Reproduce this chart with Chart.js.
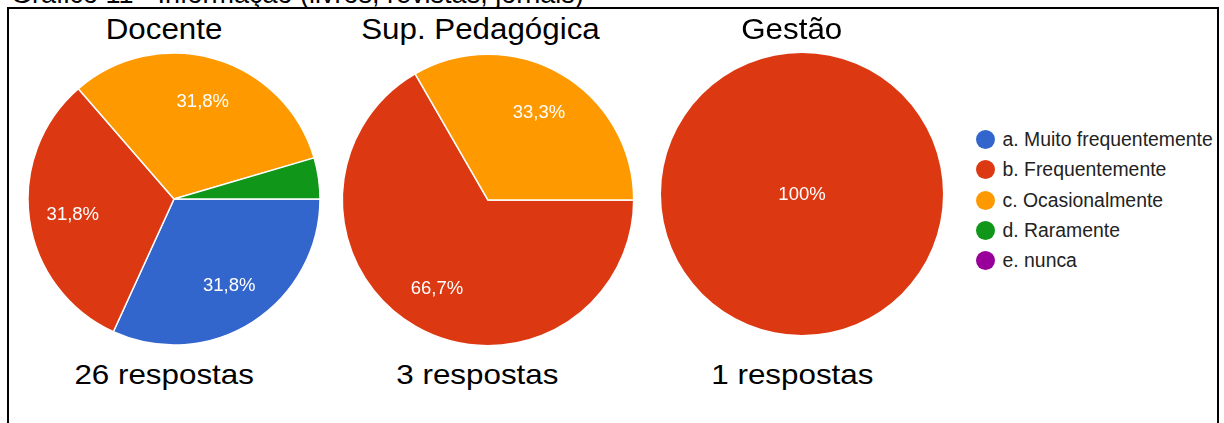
<!DOCTYPE html>
<html>
<head>
<meta charset="utf-8">
<script src="https://cdn.jsdelivr.net/npm/chart.js@4/dist/chart.umd.min.js"></script>
<style>
  html, body { margin:0; padding:0; background:#fff; width:1224px; height:423px; overflow:hidden; position:relative; font-family: Arial, "Liberation Sans", sans-serif; }
  .abs { position:absolute; white-space:nowrap; }
  #frame { position:absolute; left:7px; top:7px; width:1208px; height:500px; border:2px solid #000; }
  .txt { line-height:1; color:#000; transform-origin: center center; }
  .cv { position:absolute; }
  .leg-dot { position:absolute; width:19px; height:19px; border-radius:50%; }
  .leg-txt { position:absolute; line-height:1; color:#222; font-size:19.4px; }
</style>
</head>
<body>
<div id="frame"></div>
<div id="root"></div>
<script>
// ---- data ----
const categories = ["a. Muito frequentemente", "b. Frequentemente", "c. Ocasionalmente", "d. Raramente", "e. nunca"];
const colors = ["#3366CC", "#DC3912", "#FF9900", "#109618", "#990099"];
const groupNames = ["Docente", "Sup. Pedagógica", "Gestão"];
const docenteValues = [7, 7, 7, 1, 0];
const supPedagogicaValues = [0, 2, 1, 0, 0];
const gestaoValues = [0, 1, 0, 0, 0];
const responseCounts = [26, 3, 1];
const pageTitle = "Gráfico 11 - Informação (livros, revistas, jornais)";

// ---- layout ----
const root = document.getElementById('root');
const pies = [
  { values: docenteValues, cx: 173.5, cy: 198.8, r: 146, titleX: 164.5, subX: 164 },
  { values: supPedagogicaValues, cx: 488.3, cy: 200.4, r: 145.7, titleX: 480, subX: 477.5 },
  { values: gestaoValues, cx: 801.7, cy: 193.6, r: 141, titleX: 791.5, subX: 792 }
];

function addText(str, cx, baseline, fs, sx, color) {
  const d = document.createElement('div');
  d.className = 'abs txt';
  d.textContent = str;
  d.style.fontSize = fs + 'px';
  d.style.color = color || '#000';
  d.style.top = (baseline - 0.8465 * fs) + 'px';
  d.style.left = '0px';
  root.appendChild(d);
  const w = d.getBoundingClientRect().width;
  d.style.left = (cx - w / 2) + 'px';
  d.style.transform = 'scaleX(' + sx + ')';
  return d;
}

// page title (clipped at top)
(function(){
  const d = document.createElement('div');
  d.className = 'abs txt';
  d.textContent = pageTitle;
  d.style.fontSize = '27px';
  d.style.left = '11px';
  d.style.top = (3.5 - 0.8465 * 27) + 'px';
  root.appendChild(d);
})();

function fmtPct(p) {
  let s = p.toFixed(1);
  if (s.endsWith('.0')) s = s.slice(0, -2);
  return s.replace('.', ',') + '%';
}

const sliceLabels = {
  id: 'sliceLabels',
  afterDatasetsDraw(chart) {
    const ctx = chart.ctx;
    const meta = chart.getDatasetMeta(0);
    const data = chart.data.datasets[0].data;
    const total = data.reduce((a, b) => a + b, 0);
    ctx.save();
    ctx.fillStyle = '#ffffff';
    ctx.font = '18.5px Arial, "Liberation Sans", sans-serif';
    ctx.textAlign = 'center';
    ctx.textBaseline = 'middle';
    meta.data.forEach((arc, i) => {
      const v = data[i];
      if (!v) return;
      const pct = v / total * 100;
      if (pct < 5) return;
      const p = arc.getProps(['x', 'y', 'startAngle', 'endAngle', 'outerRadius'], true);
      let x = p.x, y = p.y;
      if (pct < 99.95) {
        const mid = (p.startAngle + p.endAngle) / 2;
        const rr = p.outerRadius * 0.7;
        x += Math.cos(mid) * rr;
        y += Math.sin(mid) * rr;
      }
      ctx.fillText(fmtPct(pct), x, y + 1);
    });
    ctx.restore();
  }
};

pies.forEach((pie, idx) => {
  const size = 300;
  const total = pie.values.reduce((a, b) => a + b, 0);
  const c = document.createElement('canvas');
  c.className = 'cv';
  c.width = size; c.height = size;
  c.style.width = size + 'px'; c.style.height = size + 'px';
  c.style.left = (pie.cx - size / 2) + 'px';
  c.style.top = (pie.cy - size / 2) + 'px';
  root.appendChild(c);
  new Chart(c, {
    type: 'pie',
    data: {
      labels: categories,
      datasets: [{
        data: pie.values,
        backgroundColor: colors,
        borderColor: '#ffffff',
        borderWidth: (ctx) => (ctx.raw > 0 && ctx.raw < total ? 1.5 : 0)
      }]
    },
    options: {
      responsive: false,
      animation: false,
      devicePixelRatio: 1,
      rotation: 90,
      radius: pie.r,
      layout: { padding: 0 },
      events: [],
      plugins: { legend: { display: false }, tooltip: { enabled: false }, title: { display: false } }
    },
    plugins: [sliceLabels]
  });
  addText(groupNames[idx], pie.titleX, 39.3, 29, 1.08);
  addText(responseCounts[idx] + ' respostas', pie.subX, 384.3, 28, 1.12);
});

// legend
const legY = [139, 169.5, 200, 230.3, 260.5];
categories.forEach((cat, i) => {
  const dot = document.createElement('div');
  dot.className = 'leg-dot';
  dot.style.background = colors[i];
  dot.style.left = (985 - 9.5) + 'px';
  dot.style.top = (legY[i] - 9.5) + 'px';
  root.appendChild(dot);
  const t = document.createElement('div');
  t.className = 'leg-txt';
  t.textContent = cat;
  t.style.left = '1002.5px';
  t.style.top = (legY[i] + 0.36 * 19.4 - 0.8465 * 19.4) + 'px';
  root.appendChild(t);
});
</script>
</body>
</html>
